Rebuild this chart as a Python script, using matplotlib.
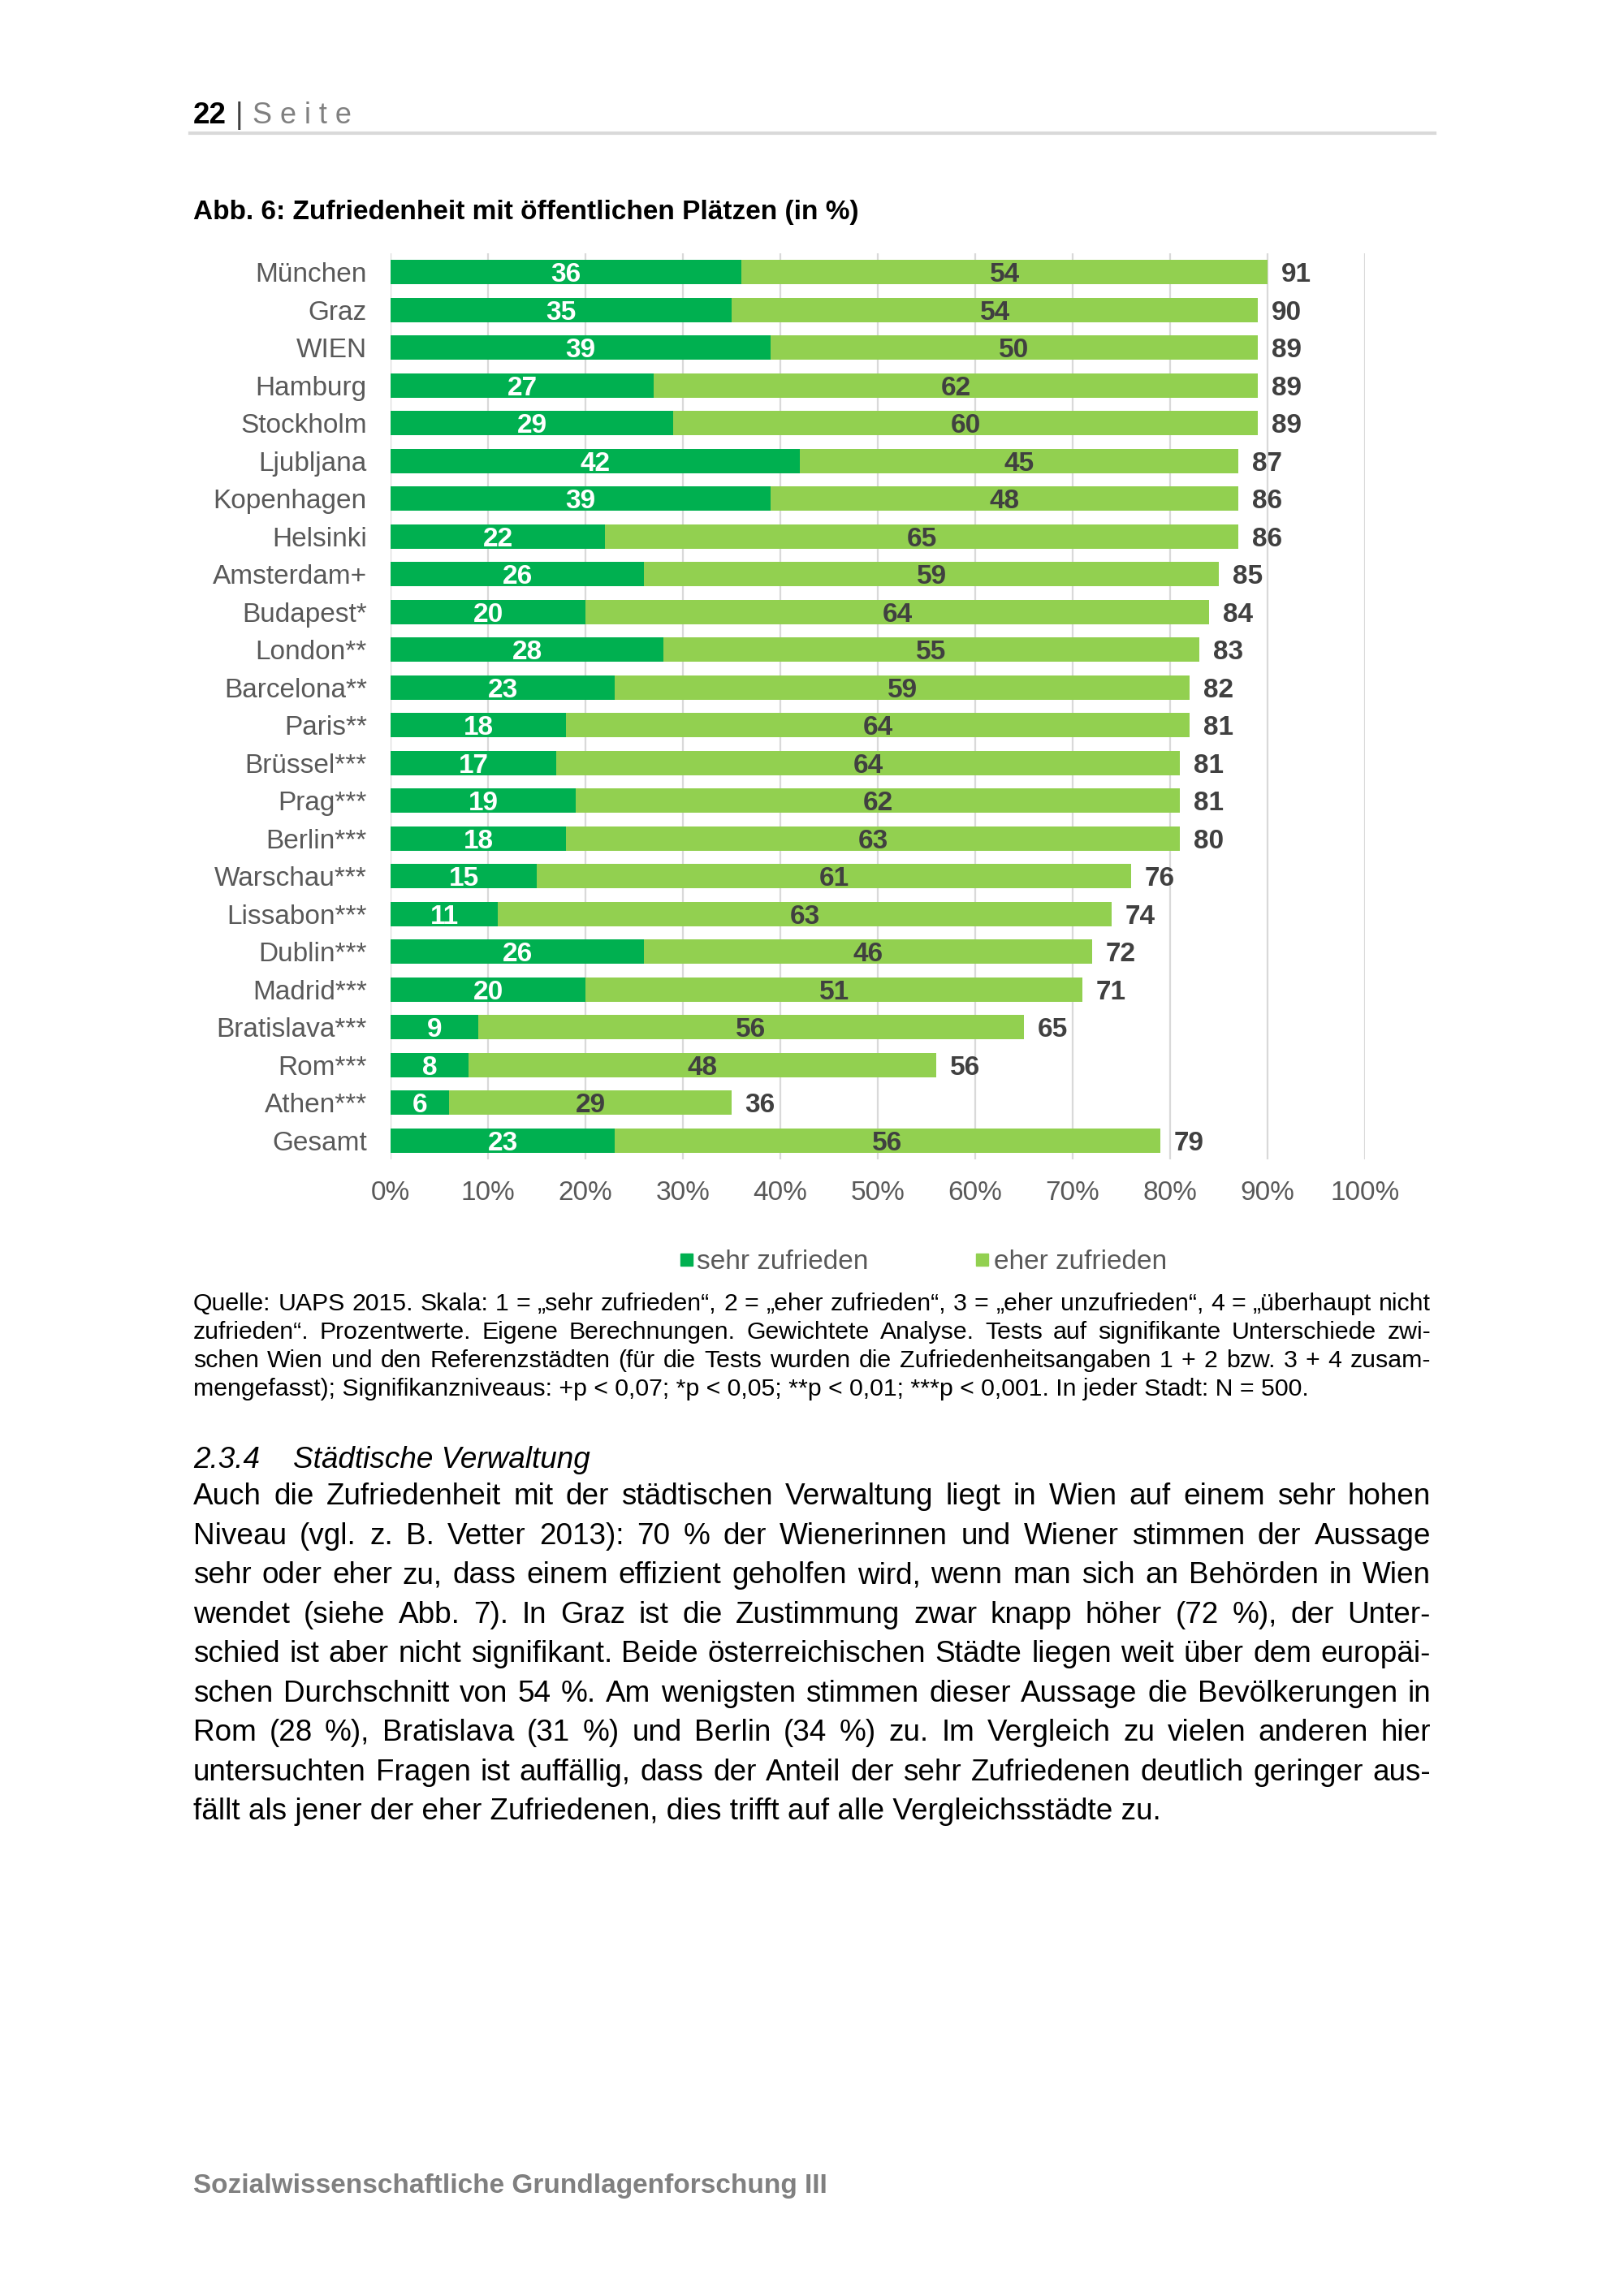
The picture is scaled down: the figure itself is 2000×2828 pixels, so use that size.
import matplotlib
matplotlib.use("Agg")
import matplotlib.pyplot as plt
from matplotlib.patches import Rectangle
from matplotlib.lines import Line2D

plt.rcParams['font.family'] = ['Liberation Sans', 'DejaVu Sans']

# ---------------- data ----------------
cities = ["München", "Graz", "WIEN", "Hamburg", "Stockholm", "Ljubljana", "Kopenhagen",
          "Helsinki", "Amsterdam+", "Budapest*", "London**", "Barcelona**", "Paris**",
          "Brüssel***", "Prag***", "Berlin***", "Warschau***", "Lissabon***", "Dublin***",
          "Madrid***", "Bratislava***", "Rom***", "Athen***", "Gesamt"]
sehr = [36, 35, 39, 27, 29, 42, 39, 22, 26, 20, 28, 23, 18, 17, 19, 18, 15, 11, 26, 20, 9, 8, 6, 23]
eher = [54, 54, 50, 62, 60, 45, 48, 65, 59, 64, 55, 59, 64, 64, 62, 63, 61, 63, 46, 51, 56, 48, 29, 56]
gesamt = [91, 90, 89, 89, 89, 87, 86, 86, 85, 84, 83, 82, 81, 81, 81, 80, 76, 74, 72, 71, 65, 56, 36, 79]
xtick_values = [0, 10, 20, 30, 40, 50, 60, 70, 80, 90, 100]
xtick_labels = ["0%", "10%", "20%", "30%", "40%", "50%", "60%", "70%", "80%", "90%", "100%"]
legend_labels = ["sehr zufrieden", "eher zufrieden"]

header_num = "22"
header_word = "S e i t e"
title = "Abb. 6: Zufriedenheit mit öffentlichen Plätzen (in %)"
source_lines = [
    "Quelle: UAPS 2015. Skala: 1 = „sehr zufrieden“, 2 = „eher zufrieden“, 3 = „eher unzufrieden“, 4 = „überhaupt nicht",
    "zufrieden“. Prozentwerte. Eigene Berechnungen. Gewichtete Analyse. Tests auf signifikante Unterschiede zwi-",
    "schen Wien und den Referenzstädten (für die Tests wurden die Zufriedenheitsangaben 1 + 2 bzw. 3 + 4 zusam-",
    "mengefasst); Signifikanzniveaus: +p < 0,07; *p < 0,05; **p < 0,01; ***p < 0,001. In jeder Stadt: N = 500.",
]
heading_num = "2.3.4"
heading_text = "Städtische Verwaltung"
body_lines = [
    "Auch die Zufriedenheit mit der städtischen Verwaltung liegt in Wien auf einem sehr hohen",
    "Niveau (vgl. z. B. Vetter 2013): 70 % der Wienerinnen und Wiener stimmen der Aussage",
    "sehr oder eher zu, dass einem effizient geholfen wird, wenn man sich an Behörden in Wien",
    "wendet (siehe Abb. 7). In Graz ist die Zustimmung zwar knapp höher (72 %), der Unter-",
    "schied ist aber nicht signifikant. Beide österreichischen Städte liegen weit über dem europäi-",
    "schen Durchschnitt von 54 %. Am wenigsten stimmen dieser Aussage die Bevölkerungen in",
    "Rom (28 %), Bratislava (31 %) und Berlin (34 %) zu. Im Vergleich zu vielen anderen hier",
    "untersuchten Fragen ist auffällig, dass der Anteil der sehr Zufriedenen deutlich geringer aus-",
    "fällt als jener der eher Zufriedenen, dies trifft auf alle Vergleichsstädte zu.",
]
footer = "Sozialwissenschaftliche Grundlagenforschung III"

# ---------------- style ----------------
W, H = 2000, 2828
DARK = "#00B050"
LIGHT = "#92D050"
GRAY_TXT = "#595959"
VAL_TXT = "#404040"
GRID = "#D9D9D9"
VA = "center_baseline"

fig = plt.figure(figsize=(W / 100, H / 100), dpi=100)
fig.patch.set_facecolor("white")


def fx(x):
    return x / W


def fy(y):
    return 1 - y / H


# header
fig.text(fx(238), fy(139), header_num, fontsize=26.5, fontweight="bold", color="black", va=VA, ha="left")
fig.text(fx(290), fy(139), "|", fontsize=26.5, color="#404040", va=VA, ha="left")
fig.text(fx(311), fy(139), header_word, fontsize=26, color="#808080", va=VA, ha="left")
fig.add_artist(Line2D([fx(234), fx(1767)], [fy(164), fy(164)], color="#D9D9D9", lw=3,
                      transform=fig.transFigure))

# title
fig.text(fx(238), fy(258), title, fontsize=24, fontweight="bold", color="black", va=VA, ha="left")

# ---------------- chart ----------------
ax = fig.add_axes([fx(481), fy(1428), 1200 / W, 1116 / H])
y = list(range(len(cities)))
ax.barh(y, sehr, height=0.64, color=DARK, zorder=3)
ax.barh(y, eher, left=sehr, height=0.64, color=LIGHT, zorder=3)
ax.set_xlim(0, 100)
ax.set_ylim(len(cities) - 0.5, -0.5)
ax.set_xticks(xtick_values)
ax.set_xticklabels(xtick_labels)
ax.set_yticks(y)
ax.set_yticklabels(cities)
ax.grid(axis="x", color=GRID, lw=1.6, zorder=0)
ax.grid(axis="y", visible=False)
for s in ax.spines.values():
    s.set_visible(False)
ax.tick_params(axis="y", length=0, pad=21, labelsize=24, labelcolor=GRAY_TXT)
ax.tick_params(axis="x", length=0, pad=19, labelsize=24, labelcolor=GRAY_TXT)
ax.set_facecolor("white")

for i in range(len(cities)):
    ax.text(sehr[i] / 2, i, str(sehr[i]), ha="center", va=VA, fontsize=24,
            fontweight="bold", color="white", zorder=4)
    ax.text(sehr[i] + eher[i] / 2, i, str(eher[i]), ha="center", va=VA, fontsize=24,
            fontweight="bold", color=VAL_TXT, zorder=4)
    ax.annotate(str(gesamt[i]), xy=(sehr[i] + eher[i], i), xytext=(12, 0),
                textcoords="offset points", ha="left", va=VA, fontsize=24,
                fontweight="bold", color=VAL_TXT, zorder=4)

# legend
for (mx, tx), lab, col in zip([(838, 858), (1202, 1224)], legend_labels, [DARK, LIGHT]):
    fig.add_artist(Rectangle((fx(mx), fy(1559)), 15 / W, 15 / H, color=col,
                             transform=fig.transFigure))
    fig.text(fx(tx), fy(1551), lab, fontsize=24, color=GRAY_TXT, va=VA, ha="left")

# ---------------- justified text ----------------
renderer = fig.canvas.get_renderer()


def justify(lines, x0, x1, y0, dy, size, color="black"):
    for i, line in enumerate(lines):
        yy = y0 + i * dy
        if i == len(lines) - 1:
            fig.text(fx(x0), fy(yy), line, fontsize=size, color=color, va=VA, ha="left")
            continue
        words = line.split(" ")
        objs, widths = [], []
        for w in words:
            t = fig.text(0, 0, w, fontsize=size, color=color, va=VA, ha="left")
            widths.append(t.get_window_extent(renderer=renderer).width)
            objs.append(t)
        gap = (x1 - x0 - sum(widths)) / (len(words) - 1)
        xx = x0
        for t, wd in zip(objs, widths):
            t.set_position((fx(xx), fy(yy)))
            xx += wd + gap


justify(source_lines, 238, 1762, 1603, 35, 21.8)

fig.text(fx(238), fy(1794), heading_num, fontsize=26.6, style="italic", color="black", va=VA, ha="left")
fig.text(fx(361), fy(1794), heading_text, fontsize=26.6, style="italic", color="black", va=VA, ha="left")

justify(body_lines, 238, 1762, 1839.5, 48.56, 26.6)

fig.text(fx(238), fy(2689), footer, fontsize=24, fontweight="bold", color="#808080", va=VA, ha="left")

fig.savefig("out.png", dpi=100, facecolor="white")
